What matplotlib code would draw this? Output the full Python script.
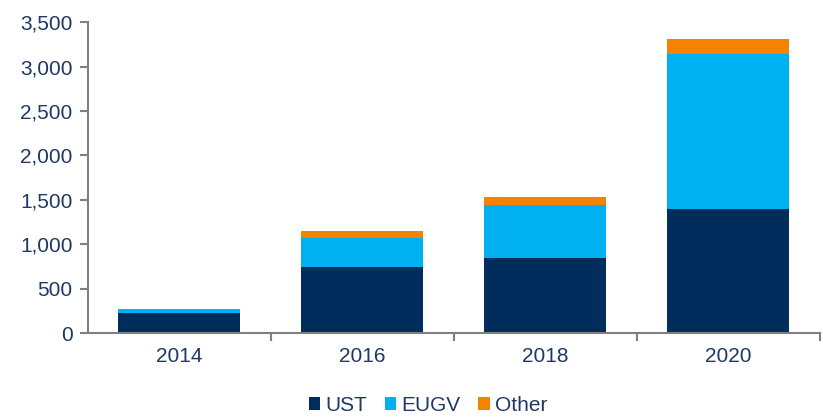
import matplotlib.pyplot as plt
import numpy as np
from matplotlib.ticker import FuncFormatter

plt.rcParams['font.family'] = ['Liberation Sans', 'DejaVu Sans']

years = ['2014', '2016', '2018', '2020']
ust = [230, 750, 850, 1400]
eugv = [43, 325, 590, 1737]
other = [5, 72, 90, 172]

c_ust = '#002D5C'
c_eugv = '#00B0F0'
c_other = '#F58300'
txt = '#1F3864'
grey = '#808080'

fig = plt.figure(figsize=(8.23, 4.17), dpi=100)
ax = fig.add_axes([0.1066, 0.2007, 0.8894, 0.7463])

x = np.arange(len(years))
w = 0.665
ust_a = np.array(ust)
eugv_a = np.array(eugv)
other_a = np.array(other)
ax.bar(x, ust_a, w, color=c_ust, label='UST')
ax.bar(x, eugv_a, w, bottom=ust_a, color=c_eugv, label='EUGV')
ax.bar(x, other_a, w, bottom=ust_a + eugv_a, color=c_other, label='Other')

ax.set_xlim(-0.5, 3.5)
ax.set_ylim(0, 3500)
ax.set_yticks(np.arange(0, 3501, 500))
ax.yaxis.set_major_formatter(FuncFormatter(lambda v, p: f'{int(v):,}'))
ax.set_xticks(x)
ax.set_xticklabels(years)
ax.set_xticks([0.5, 1.5, 2.5, 3.5], minor=True)

for s in ['top', 'right']:
    ax.spines[s].set_visible(False)
for s in ['left', 'bottom']:
    ax.spines[s].set_color(grey)
    ax.spines[s].set_linewidth(1.5)

fs = 15
ax.tick_params(axis='y', direction='out', length=6, width=1.5, color=grey,
               labelsize=fs, labelcolor=txt, pad=5)
ax.tick_params(axis='x', which='major', length=0, labelsize=fs,
               labelcolor=txt, pad=10)
ax.tick_params(axis='x', which='minor', direction='out', length=6,
               width=1.5, color=grey)

leg = fig.legend(*ax.get_legend_handles_labels(), loc='center',
                 bbox_to_anchor=(0.52, 0.028), ncol=3, frameon=False,
                 fontsize=fs, handlelength=0.55, handleheight=0.55,
                 handletextpad=0.25, columnspacing=0.85, borderpad=0)
for t in leg.get_texts():
    t.set_color(txt)

fig.savefig('out.png', dpi=100)
